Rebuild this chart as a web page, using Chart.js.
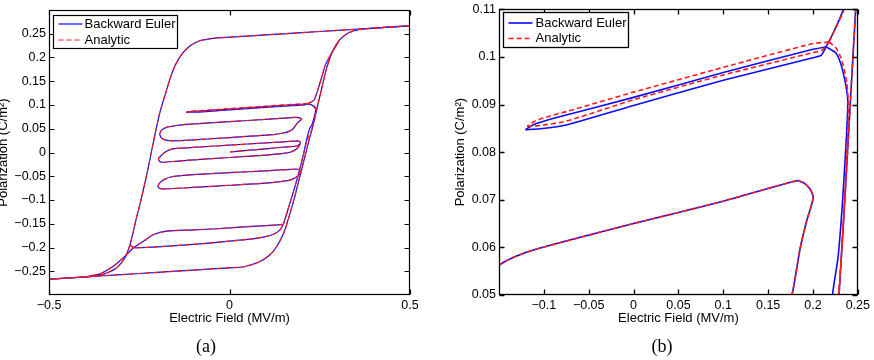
<!DOCTYPE html>
<html>
<head>
<meta charset="utf-8">
<script src="https://cdn.jsdelivr.net/npm/chart.js@4.4.1/dist/chart.umd.min.js"></script>
<style>
html, body { margin: 0; padding: 0; background: #fff; }
#wrap { position: relative; width: 874px; height: 360px; overflow: hidden; }
canvas { position: absolute; top: 0; }
#plotA { left: 0; }
#plotB { left: 437px; }
.cap { position: absolute; top: 336px; line-height: 20px; font-family: "Liberation Serif", "DejaVu Serif", serif; font-size: 18px; transform: translateX(-50%); }
</style>
</head>
<body>
<div id="wrap">
  <canvas id="plotA" width="437" height="360"></canvas>
  <canvas id="plotB" width="437" height="360"></canvas>
  <div class="cap" style="left:206px">(a)</div>
  <div class="cap" style="left:662px">(b)</div>
</div>
<script>
// [E (MV/m), P (C/m^2)]
const upperBranch = [[0.5,0.2667],[0.4,0.2619],[0.3,0.2571],[0.2,0.2523],[0.1,0.2475],[0,0.2427],[-0.045,0.2403],[-0.082,0.2352],[-0.109,0.2247],[-0.132,0.2072],[-0.151,0.1825],[-0.165,0.1544],[-0.179,0.1195],[-0.193,0.0842],[-0.203,0.05],[-0.214,0.01],[-0.229,-0.046],[-0.248,-0.109],[-0.257,-0.135],[-0.266,-0.165],[-0.276,-0.195],[-0.287,-0.218],[-0.3,-0.233],[-0.315,-0.244],[-0.335,-0.252],[-0.36,-0.2585],[-0.4,-0.2619],[-0.5,-0.2667]];
const lowerBranch = [[-0.5,-0.2667],[-0.4,-0.2619],[-0.3,-0.2571],[-0.2,-0.2523],[-0.1,-0.2475],[0,-0.2427],[0.04,-0.2405],[0.08,-0.231],[0.11,-0.217],[0.13,-0.199],[0.15,-0.17],[0.165,-0.135],[0.18,-0.095],[0.195,-0.05],[0.21,-0.005],[0.22,0.025],[0.229,0.05],[0.2355,0.07],[0.2415,0.09],[0.2476,0.11],[0.257,0.14],[0.268,0.175],[0.285,0.212],[0.305,0.237],[0.33,0.252],[0.36,0.259],[0.4,0.2619],[0.5,0.2667]];
const startLine = [[0.0014,0.001],[0.05,0.0045],[0.1,0.0078],[0.15,0.0112],[0.186,0.0137],[0.194,0.0175]];
const loopB = [[-0.194,0.039],[-0.188,0.047],[-0.175,0.053],[-0.15,0.0563],[-0.133,0.058],[-0.107,0.0597],[0,0.065],[0.1,0.0697],[0.182,0.074],[0.19,0.0735],[0.197,0.0722],[0.2003,0.0705],[0.197,0.068],[0.193,0.0656],[0.1856,0.0597],[0.1765,0.05],[0.165,0.0445],[0.149,0.041],[0.12,0.0375],[0.057,0.0344],[0,0.0315],[-0.1,0.0265],[-0.14,0.0248],[-0.165,0.0248],[-0.18,0.027],[-0.19,0.032],[-0.194,0.039]];
const loopC = [[0.197,0.021],[0.19,0.0245],[0.15,0.0225],[0.1,0.0202],[0,0.0155],[-0.1,0.0108],[-0.146,0.0085],[-0.165,0.006],[-0.18,0.0],[-0.19,-0.007],[-0.197,-0.013],[-0.193,-0.019],[-0.185,-0.0205],[-0.15,-0.0185],[-0.1,-0.0155],[0,-0.0105],[0.1,-0.0055],[0.15,-0.002],[0.17,0.001],[0.185,0.007],[0.193,0.014],[0.197,0.021]];
const loopD = [[0.186,-0.035],[0.193,-0.0365],[0.197,-0.0405],[0.191,-0.048],[0.181,-0.0535],[0.165,-0.0585],[0.1,-0.0645],[0,-0.069],[-0.1,-0.0735],[-0.155,-0.0758],[-0.185,-0.0765],[-0.195,-0.0748],[-0.198,-0.0705],[-0.192,-0.063],[-0.18,-0.0565],[-0.16,-0.051],[-0.1,-0.0465],[0,-0.0425],[0.1,-0.0385],[0.186,-0.035]];
const loopEBottom = [[-0.276,-0.195],[-0.265,-0.2005],[-0.25,-0.2005],[-0.2,-0.1985],[-0.1,-0.1935],[0,-0.1865],[0.05,-0.183],[0.1,-0.177],[0.125,-0.171],[0.14,-0.163],[0.149,-0.1515]];
const loopETop = [[0.149,-0.1515],[0.1,-0.154],[0.029,-0.157],[-0.026,-0.16],[-0.1,-0.163],[-0.174,-0.1656],[-0.21,-0.1726],[-0.238,-0.1867],[-0.266,-0.2007],[-0.294,-0.2217],[-0.322,-0.2394],[-0.359,-0.2555],[-0.4,-0.2619]];

// pieces where the two methods separate (visible in panel b)
const eulerClimb = [[0.149,-0.1515],[0.158,-0.13],[0.17,-0.1],[0.182,-0.07],[0.193,-0.04],[0.203,-0.01],[0.213,0.025],[0.222,0.0503],[0.228,0.058],[0.233,0.0698],[0.2374,0.0837],[0.2388,0.0906],[0.2374,0.0932],[0.2347,0.0958],[0.2311,0.0985],[0.2256,0.1008],[0.2146,0.1021]];
const eulerLoopATop = [[0.2146,0.1021],[0.2,0.1016],[0.1,0.0967],[0,0.0915],[-0.075,0.0878],[-0.093,0.0869],[-0.111,0.0858],[-0.1205,0.0847]];
const eulerLoopALow = [[-0.1205,0.0847],[-0.104,0.0849],[-0.075,0.0857],[0,0.0898],[0.1,0.0951],[0.2,0.0998],[0.209,0.1003],[0.2146,0.1021]];
const eulerExit = [[0.2146,0.1021],[0.222,0.1048],[0.2336,0.11],[0.244,0.13],[0.254,0.155],[0.266,0.185],[0.285,0.212],[0.305,0.237]];
const analyticClimb = [[0.149,-0.1515],[0.158,-0.13],[0.17,-0.1],[0.182,-0.07],[0.193,-0.04],[0.203,-0.01],[0.215,0.025],[0.2286,0.0503],[0.234,0.066],[0.2378,0.08],[0.2395,0.09],[0.2378,0.0945],[0.2347,0.0975],[0.231,0.0999],[0.2256,0.1019],[0.218,0.1031]];
const analyticLoopATop = [[0.218,0.1031],[0.2,0.1028],[0.1,0.0978],[0,0.0926],[-0.075,0.0885],[-0.093,0.0876],[-0.11,0.0865],[-0.1187,0.0854]];
const analyticLoopALow = [[-0.1187,0.0854],[-0.104,0.0856],[-0.075,0.0865],[0,0.091],[0.1,0.0962],[0.2,0.1009],[0.21,0.1014],[0.218,0.1031]];
const analyticExit = [[0.218,0.1031],[0.225,0.106],[0.2345,0.11],[0.244,0.13],[0.254,0.155],[0.266,0.185],[0.285,0.212],[0.305,0.237]];

const seriesNames = ["Backward Euler", "Analytic"];

const aXTicks = [-0.5, 0, 0.5];
const aXLabels = ["\u22120.5", "0", "0.5"];
const aYTicks = [-0.25, -0.2, -0.15, -0.1, -0.05, 0, 0.05, 0.1, 0.15, 0.2, 0.25];
const aYLabels = ["\u22120.25", "\u22120.2", "\u22120.15", "\u22120.1", "\u22120.05", "0", "0.05", "0.1", "0.15", "0.2", "0.25"];
const bXTicks = [-0.1, -0.05, 0, 0.05, 0.1, 0.15, 0.2, 0.25];
const bXLabels = ["\u22120.1", "\u22120.05", "0", "0.05", "0.1", "0.15", "0.2", "0.25"];
const bYTicks = [0.05, 0.06, 0.07, 0.08, 0.09, 0.1, 0.11];
const bYLabels = ["0.05", "0.06", "0.07", "0.08", "0.09", "0.1", "0.11"];

const eulerSegs = [upperBranch, lowerBranch, startLine, loopB, loopC, loopD, loopEBottom, loopETop, eulerClimb, eulerLoopATop, eulerLoopALow, eulerExit];
const analyticSegs = [upperBranch, lowerBranch, startLine, loopB, loopC, loopD, loopEBottom, loopETop, analyticClimb, analyticLoopATop, analyticLoopALow, analyticExit];

const BLUE = "#0a0aff";
const RED = "#ff1a1a";
const FONT = '"Liberation Sans", Arial, sans-serif';

Chart.defaults.font.family = FONT;
Chart.defaults.color = "#000";

function segDataset(points, color, dash, width){
  return {
    data: points.map(([x, y]) => ({ x, y })),
    showLine: true,
    pointRadius: 0,
    borderColor: color,
    borderWidth: width,
    borderDash: dash,
    tension: 0.2,
    fill: false,
    order: dash.length ? 0 : 1,
  };
}

// matlab style box: frame, inward ticks, legend in the top-left corner
const framePlugin = {
  id: "frame",
  afterDatasetsDraw(chart, args, o){
    const { ctx, chartArea: a, scales: { x, y } } = chart;
    const L = Math.round(a.left) + 0.5, R = Math.round(a.right) - 0.5;
    const T = Math.round(a.top) + 0.5, B = Math.round(a.bottom) - 0.5;
    ctx.save();
    ctx.strokeStyle = "#000";
    ctx.lineWidth = o.lw;
    ctx.setLineDash([]);
    ctx.strokeRect(L, T, R - L, B - T);
    ctx.beginPath();
    o.xTicks.forEach(v => {
      const p = Math.round(x.getPixelForValue(v)) + 0.5;
      ctx.moveTo(p, B); ctx.lineTo(p, B - o.len);
      ctx.moveTo(p, T); ctx.lineTo(p, T + o.len);
    });
    o.yTicks.forEach(v => {
      const p = Math.round(y.getPixelForValue(v)) + 0.5;
      ctx.moveTo(L, p); ctx.lineTo(L + o.len, p);
      ctx.moveTo(R, p); ctx.lineTo(R - o.len, p);
    });
    ctx.stroke();

    const lg = o.legend;
    const bx = Math.round(a.left + lg.dx) + 0.5, by = Math.round(a.top + lg.dy) + 0.5;
    ctx.fillStyle = "#fff";
    ctx.fillRect(bx, by, lg.w, lg.h);
    ctx.lineWidth = lg.lw;
    ctx.strokeRect(bx, by, lg.w, lg.h);
    ctx.font = `13px ${FONT}`;
    ctx.textBaseline = "middle";
    const rows = [
      { name: seriesNames[0], color: BLUE, dash: [] },
      { name: seriesNames[1], color: RED, dash: [5, 3] },
    ];
    rows.forEach((r, i) => {
      const ry = by + lg.row0 + i * lg.rowGap;
      ctx.strokeStyle = r.color;
      ctx.lineWidth = o.lineW;
      ctx.setLineDash(r.dash);
      ctx.beginPath();
      ctx.moveTo(bx + lg.lx0, ry); ctx.lineTo(bx + lg.lx1, ry);
      ctx.stroke();
      ctx.setLineDash([]);
      ctx.fillStyle = "#000";
      ctx.fillText(r.name, bx + lg.tx, ry);
    });
    ctx.restore();
  }
};

function makePanel(id, p){
  const datasets = [
    ...analyticSegs.map(s => segDataset(s, RED, [5, 3], p.lineW)),
    ...eulerSegs.map(s => segDataset(s, BLUE, [], p.lineW)),
  ];
  const tickFont = { size: 12.5, lineHeight: 1 };
  return new Chart(document.getElementById(id), {
    type: "scatter",
    data: { datasets },
    options: {
      responsive: false,
      animation: false,
      events: [],
      layout: { padding: { left: 0, top: p.top, right: p.right, bottom: 34 } },
      plugins: {
        legend: { display: false },
        tooltip: { enabled: false },
        frame: { xTicks: p.xTicks, yTicks: p.yTicks, len: 5, lw: p.frameW, lineW: p.lineW, legend: p.legend },
      },
      scales: {
        x: {
          type: "linear", min: p.xMin, max: p.xMax,
          afterBuildTicks: s => { s.ticks = p.xTicks.map(v => ({ value: v })); },
          afterFit: s => { s.height = 31; },
          ticks: { font: tickFont, padding: 4, maxRotation: 0, autoSkip: false, callback: (v, i) => p.xLabels[i] },
          grid: { display: false, drawTicks: false },
          border: { display: false },
          title: { display: true, text: "Electric Field (MV/m)", font: { size: 13 }, padding: { top: 0, bottom: 0 } },
        },
        y: {
          type: "linear", min: p.yMin, max: p.yMax,
          afterBuildTicks: s => { s.ticks = p.yTicks.map(v => ({ value: v })); },
          afterFit: s => { s.width = p.yWidth; },
          ticks: { font: tickFont, padding: 3, autoSkip: false, callback: (v, i) => p.yLabels[i] },
          grid: { display: false, drawTicks: false },
          border: { display: false },
          title: { display: true, text: "Polarization (C/m\u00b2)", font: { size: 13 }, padding: { top: p.yTitlePad, bottom: 0 } },
        },
      },
    },
    plugins: [framePlugin],
  });
}

makePanel("plotA", {
  xMin: -0.5, xMax: 0.5, yMin: -0.3, yMax: 0.3,
  xTicks: aXTicks, xLabels: aXLabels, yTicks: aYTicks, yLabels: aYLabels,
  top: 10, right: 27, yWidth: 49, yTitlePad: -4.5,
  lineW: 1.2, frameW: 1.2,
  legend: { dx: 4, dy: 5, w: 124, h: 33, lw: 1.2, row0: 8.5, rowGap: 16, lx0: 5, lx1: 29, tx: 31 },
});

makePanel("plotB", {
  xMin: -0.15, xMax: 0.25, yMin: 0.05, yMax: 0.11,
  xTicks: bXTicks, xLabels: bXLabels, yTicks: bYTicks, yLabels: bYLabels,
  top: 7, right: 12, yWidth: 62, yTitlePad: 15.2,
  lineW: 1.6, frameW: 1.3,
  legend: { dx: 4, dy: 3, w: 125, h: 35, lw: 1.3, row0: 10.5, rowGap: 15.5, lx0: 5, lx1: 29, tx: 32 },
});
</script>
</body>
</html>
